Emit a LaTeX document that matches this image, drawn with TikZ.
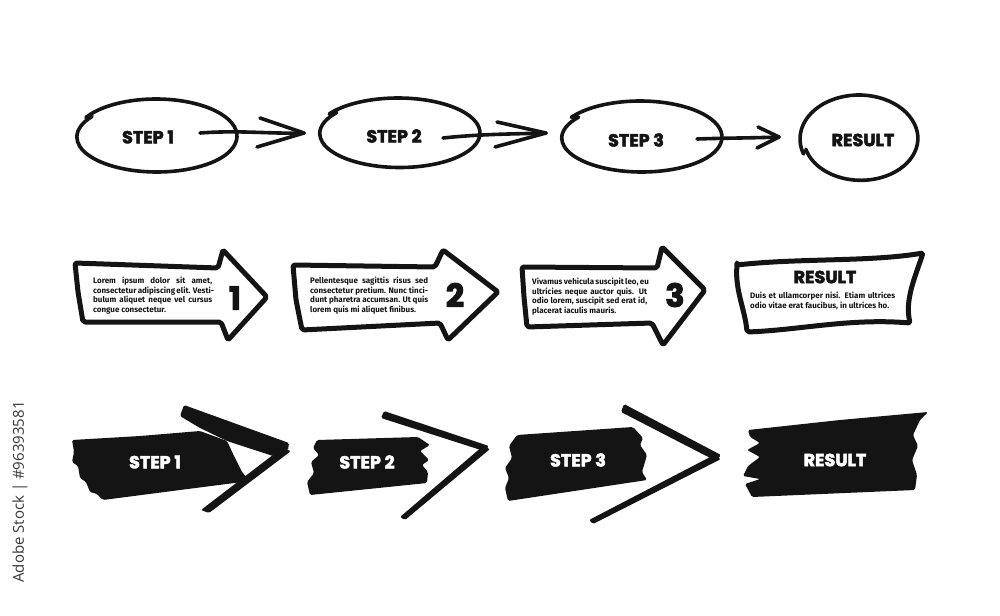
\documentclass[tikz,border=0pt]{standalone}
\usepackage{fontspec}
\newfontfamily\heavyf{Poppins}[FakeBold=3]
\newfontfamily\bodyf{Fira Sans}
\newfontfamily\wmf{Open Sans}
\definecolor{ink}{HTML}{141414}
\newcommand\jline[2]{\makebox[#1][s]{#2}\\}
\begin{document}
\begin{tikzpicture}[x=1pt,y=-1pt,
  pen/.style={draw=ink,line width=3.6pt,line cap=round,line join=round},
  outl/.style={draw=ink,line width=5pt,line join=round,line cap=round,fill=white,rounded corners=2pt},
  brush/.style={fill=ink,rounded corners=1.5pt},
  lbl/.style={font=\heavyf\bfseries\fontsize{17.5}{17.5}\selectfont,text=ink,inner sep=0pt},
  wlbl/.style={lbl,text=white},
  num/.style={font=\heavyf\bfseries\fontsize{32}{32}\selectfont,text=ink,inner sep=0pt},
  body/.style={font=\bodyf\bfseries\fontsize{8}{9.6}\selectfont,text=ink,inner sep=0pt,anchor=north west,align=left}
]
\useasboundingbox (0,0) rectangle (1000,615);
\fill[white] (0,0) rectangle (1000,615);

% ---------- row 1 : ellipses ----------
\draw[pen] (156,136) ++(210:81 and 37) arc[start angle=210,end angle=390,x radius=81,y radius=37]
   arc[start angle=390,end angle=576,x radius=80,y radius=35];
\draw[pen] (398,133) ++(213:82 and 35) arc[start angle=213,end angle=390,x radius=82,y radius=35]
   arc[start angle=390,end angle=578,x radius=80,y radius=34];
\draw[pen] (640,137) ++(213:82 and 36) arc[start angle=213,end angle=390,x radius=82,y radius=36]
   arc[start angle=390,end angle=578,x radius=80,y radius=34];
\draw[pen] (859,139) ++(160:59 and 44) arc[start angle=160,end angle=340,x radius=59,y radius=44]
   arc[start angle=340,end angle=525,x radius=57,y radius=42];

\node[lbl] (s1) at (148,137) {STEP 1};
\node[lbl] (s2) at (394,136) {STEP 2};
\node[lbl] (s3) at (636,140) {STEP 3};
\node[lbl] (r1) at (863,140) {RESULT};

\coordinate (a1s) at (200,133); \coordinate (a1e) at (304,133);
\coordinate (a2s) at (443,138); \coordinate (a2e) at (546,133);
\coordinate (a3s) at (697,139); \coordinate (a3e) at (779,137);
\draw[pen] (a1s) .. controls (240,130) and (270,134) .. (a1e);
\draw[pen] (260,118) -- (a1e) -- (257,147);
\draw[pen] (a2s) .. controls (480,134) and (515,134) .. (a2e);
\draw[pen] (497,122) -- (a2e) -- (495,147);
\draw[pen] (a3s) .. controls (725,138) and (755,138) .. (a3e);
\draw[pen] (758,127) -- (a3e) -- (757,148);

% ---------- row 2 : outlined arrows ----------
\draw[outl] (75,263) -- (218,268) -- (223,250) -- (267,297) -- (228,340) -- (221,322) -- (83,322) -- (78,292) -- cycle;
\draw[outl] (293,265) -- (435,267) -- (443,250) -- (498,292) -- (448,340) -- (440,323) -- (302,330) -- (296,300) -- cycle;
\draw[outl] (522,267) -- (657,268) -- (662,247) -- (705,290) -- (663,345) -- (652,323) -- (527,327) -- (524,297) -- cycle;
\draw[outl] (737,265) .. controls (800,258) and (870,262) .. (923,253)
   .. controls (914,280) and (905,300) .. (910,323)
   .. controls (850,318) and (800,330) .. (747,332)
   .. controls (745,310) and (735,290) .. (737,265) -- cycle;

\node[body] (b1) at (93,277) {\jline{119pt}{Lorem ipsum dolor sit amet,}\jline{119pt}{consectetur adipiscing elit. Vesti-}\jline{119pt}{bulum aliquet neque vel cursus}congue consectetur.};
\node[body] (b2) at (310,277) {\jline{118pt}{Pellentesque sagittis risus sed}\jline{118pt}{consectetur pretium. Nunc tinci-}\jline{118pt}{dunt pharetra accumsan. Ut quis}lorem quis mi aliquet finibus.};
\node[body] (b3) at (532,278) {\jline{115pt}{Vivamus vehicula suscipit leo, eu}\jline{115pt}{ultricies neque auctor quis. Ut}\jline{115pt}{odio lorem, suscipit sed erat id,}placerat iaculis mauris.};
\node[body] (b4) at (750,292) {\jline{145pt}{Duis et ullamcorper nisi. Etiam ultrices}odio vitae erat faucibus, in ultrices ho.};

\node[num] (n1) at (235,298) {1};
\node[num] (n2) at (455,295) {2};
\node[num] (n3) at (675,295) {3};
\node[lbl] (r2) at (825,277) {RESULT};

% ---------- row 3 : brush arrows ----------
\fill[brush] (72,440) -- (140,436) -- (200,431) -- (227,441) -- (235,458) -- (242,472) -- (250,481) -- (180,490) -- (103,500) -- (97,494) -- (90,492) -- (86,482) -- (80,478) -- (78,466) -- (72,462) -- (74,452) -- cycle;
\fill[brush] (180,416) -- (184,405) -- (289,443) -- (288,450) -- (273,456) -- (227,441) -- (200,428) -- cycle;
\fill[brush] (282,448) -- (291,451) -- (209,513) -- (201,510) -- cycle;

\fill[brush] (317,440) -- (418,437) -- (430,445) -- (420,451) -- (429,460) -- (422,465) -- (428,472) -- (427,483) -- (310,495) -- (307,482) -- (314,473) -- (311,462) -- (319,455) -- (313,448) -- cycle;
\fill[brush] (381,418) -- (384,411) -- (489,446) -- (484,451) -- cycle;
\fill[brush] (483,446) -- (490,449) -- (405,520) -- (400,517) -- cycle;

\fill[brush] (517,435) -- (633,427) -- (643,438) -- (640,445) -- (647,455) -- (642,472) -- (647,480) -- (508,501) -- (505,488) -- (509,478) -- (505,468) -- (512,458) -- (509,446) -- cycle;
\fill[brush] (621,412) -- (624,404) -- (721,455) -- (716,461) -- cycle;
\fill[brush] (714,455) -- (721,459) -- (593,524) -- (589,520) -- cycle;

\fill[brush] (748,430) -- (840,420) -- (928,412) -- (920,420) -- (913,435) -- (918,446) -- (912,460) -- (917,475) -- (915,490) -- (752,497) -- (745,484) -- (760,479) -- (743,476) -- (748,466) -- (760,457) -- (747,450) -- (760,443) -- (750,437) -- cycle;

\node[wlbl] (w1) at (155,462) {STEP 1};
\node[wlbl] (w2) at (367,462) {STEP 2};
\node[wlbl] (w3) at (578,460) {STEP 3};
\node[wlbl] (w4) at (835,460) {RESULT};

% ---------- side label ----------
\node[rotate=90,font=\wmf\fontsize{15}{15}\selectfont,text=black!78,inner sep=0pt] (wm) at (20,492) {Adobe Stock | \#96393581};
\end{tikzpicture}
\end{document}
